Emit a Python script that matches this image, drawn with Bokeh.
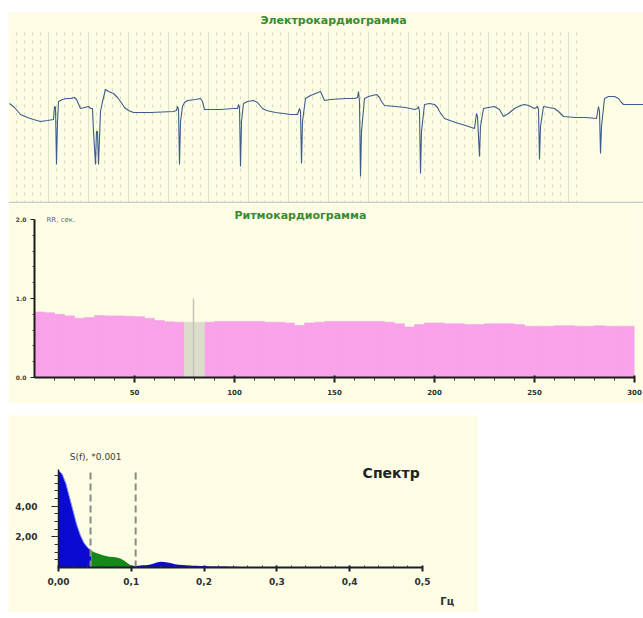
import numpy as np
from bokeh.plotting import figure
from bokeh.models import Label, Span, BoxAnnotation, Grid, SingleIntervalTicker, FixedTicker
from bokeh.embed import file_html
from bokeh.resources import INLINE

CREAM = "#fdfde6"
PINK = "#f8a2ea"
TITLE_GREEN = "#3a8a32"

# ---------------- ECG trace (time units, amplitude units) ----------------
ecg_time = [1, 6, 12, 19, 25, 32, 39, 45,
            46, 47, 48, 49, 50, 54, 58, 62, 66, 68, 72, 76, 80, 82,
            84, 85, 87, 88, 89, 90, 92, 94, 97, 100, 105, 109, 112, 116, 120, 125, 142, 165,
            168, 169, 170, 171, 172, 174, 176, 179, 187, 192, 194, 196, 202, 212, 225, 229,
            230, 231, 232, 233, 235, 239, 245, 249, 254, 258, 267, 275, 282, 289,
            291, 292, 293, 294, 297, 302, 307, 312, 316, 322, 337, 346, 349,
            350, 351, 352, 353, 356, 360, 368, 371, 373, 376, 387, 397, 406, 409,
            410, 411, 412, 413, 416, 421, 426, 429, 431, 436, 447, 457, 466,
            468, 469, 471, 472, 475, 480, 486, 491, 495, 500, 506, 512, 516, 520, 526, 528,
            529, 530, 531, 532, 535, 540, 546, 550, 555, 567, 577, 588,
            590, 591, 592, 593, 596, 600, 606, 610, 613, 615, 622, 635]
ecg_amp = [100, 96, 89, 86, 84, 82, 83, 84,
           97, 96, 39, 82, 102, 104, 105, 105, 106, 104, 95, 96, 97, 95,
           95, 72, 39, 72, 72, 39, 92, 102, 114, 112, 110, 106, 102, 96, 93, 91, 91, 92,
           93, 97, 94, 39, 82, 97, 101, 103, 104, 105, 102, 94, 94, 94, 95, 95,
           99, 96, 37, 82, 100, 102, 103, 101, 95, 93, 91, 90, 89, 89,
           95, 92, 40, 82, 105, 108, 110, 112, 103, 104, 105, 105, 106,
           112, 102, 27, 72, 105, 107, 109, 106, 102, 98, 97, 96, 94, 95,
           97, 92, 30, 72, 99, 100, 99, 96, 92, 85, 81, 78, 75,
           90, 87, 47, 77, 95, 96, 97, 94, 87, 90, 95, 98, 99, 98, 95, 96,
           97, 94, 44, 77, 97, 96, 95, 92, 87, 86, 86, 85,
           97, 92, 50, 77, 105, 107, 107, 105, 101, 99, 99, 99]

# ---------------- Rhythmogram (RR, s) ----------------
rr_start = list(range(0, 300, 5))
rr_value = [0.83, 0.82, 0.80, 0.78, 0.75, 0.76, 0.785, 0.78, 0.78, 0.775,
            0.77, 0.75, 0.72, 0.705, 0.70, None, None, 0.70, 0.71, 0.71,
            0.71, 0.71, 0.71, 0.70, 0.70, 0.69, 0.66, 0.69, 0.70, 0.71,
            0.71, 0.71, 0.71, 0.71, 0.71, 0.70, 0.68, 0.64, 0.67, 0.69,
            0.69, 0.68, 0.68, 0.67, 0.67, 0.68, 0.68, 0.68, 0.67, 0.65,
            0.65, 0.65, 0.655, 0.655, 0.65, 0.65, 0.655, 0.65, 0.65, 0.65]
gap_start = [75, 80]
gap_value = [0.70, 0.70]
artifact_time = [79.5]
artifact_value = [1.0]
rr_ticks = [50, 100, 150, 200, 250, 300]
rr_y_ticks = [0, 1, 2]
rr_y_labels = ["0.0", "1.0", "2.0"]

# ---------------- Spectrum ----------------
spec_freq = [i * 0.005 for i in range(51)]
spec_power = [6.35, 6.1, 5.5, 4.6, 3.7, 2.8, 2.1, 1.6, 1.3, 1.1,
              0.98, 0.9, 0.82, 0.75, 0.7, 0.68, 0.65, 0.58, 0.45, 0.28,
              0.12, 0.1, 0.12, 0.14, 0.15, 0.18, 0.25, 0.33, 0.38, 0.36,
              0.33, 0.28, 0.22, 0.18, 0.16, 0.14, 0.13, 0.12, 0.11, 0.1,
              0.1, 0.08, 0.07, 0.07, 0.06, 0.06, 0.06, 0.05, 0.05, 0.05,
              0.04]
band_edges = [0.044, 0.106]
band_top = 6.35
lf_band = (0.045, 0.100)
spec_x_ticks = [0, 0.1, 0.2, 0.3, 0.4, 0.5]
spec_x_labels = ["0,00", "0,1", "0,2", "0,3", "0,4", "0,5"]
spec_y_ticks = [2, 4]
spec_y_labels = ["2,00", "4,00"]

# ======================= ECG panel =======================
p1 = figure(width=635, height=203, x_range=(0, 635), y_range=(0, 191),
            x_axis_type=None, y_axis_type=None, toolbar_location=None,
            output_backend="svg", min_border_top=12, min_border_left=0,
            min_border_right=0, min_border_bottom=0,
            background_fill_color=CREAM, border_fill_color="white",
            outline_line_color=None)
p1.margin = (0, 0, 0, 8)
grid = Grid(dimension=0, ticker=SingleIntervalTicker(interval=40, num_minor_ticks=5),
            bounds=(0, 572), grid_line_color="#dde2c8", grid_line_width=1,
            minor_grid_line_color="#d4dabd", minor_grid_line_dash="3 5")
p1.add_layout(grid)
p1.add_layout(BoxAnnotation(bottom=172, fill_color=CREAM, fill_alpha=1.0, line_color=None))
p1.line(ecg_time, ecg_amp, line_color="#3d5c8c", line_width=1.1)
p1.add_layout(Span(location=0.8, dimension="width", line_color="#cacac0", line_width=2))
p1.add_layout(Label(x=325, y=183, text="Электрокардиограмма", text_align="center",
                    text_baseline="middle", text_font="DejaVu Sans", text_font_style="bold",
                    text_font_size="11px", text_color=TITLE_GREEN))

# ======================= Rhythmogram =======================
p2 = figure(width=635, height=200, x_range=(0, 300), y_range=(0, 2.2025),
            toolbar_location=None, output_backend="svg",
            min_border_left=26, min_border_right=9, min_border_top=0, min_border_bottom=26,
            background_fill_color=CREAM, border_fill_color=CREAM, outline_line_color=None)
p2.margin = (0, 0, 0, 8)
p2.grid.visible = False

left = [t for t, v in zip(rr_start, rr_value) if v is not None]
top = [v for v in rr_value if v is not None]
p2.quad(left=left, right=[l + 5 for l in left], bottom=0, top=top,
        fill_color=PINK, line_color=PINK, line_width=0.6)
p2.quad(left=gap_start, right=[g + 5 for g in gap_start], bottom=0, top=gap_value,
        fill_color="#dcdccb", line_color="#dcdccb", line_width=0.6)
p2.segment(x0=artifact_time, y0=0, x1=artifact_time, y1=artifact_value,
           line_color="#c4c4b8", line_width=1.5)

xa = p2.xaxis[0]
xa.ticker = FixedTicker(ticks=rr_ticks, minor_ticks=list(range(10, 300, 10)))
xa.bounds = (0, 300)
xa.axis_line_color = "#1a1a1a"
xa.axis_line_width = 2
xa.major_tick_line_color = "#1a1a1a"
xa.major_tick_line_width = 2
xa.major_tick_in = 2
xa.major_tick_out = 5
xa.minor_tick_line_color = "#333333"
xa.minor_tick_in = 0
xa.minor_tick_out = 3
xa.major_label_standoff = 6
xa.major_label_text_font = "DejaVu Sans"
xa.major_label_text_font_style = "bold"
xa.major_label_text_font_size = "7px"
xa.major_label_text_color = "#303030"

ya = p2.yaxis[0]
ya.ticker = FixedTicker(ticks=rr_y_ticks, minor_ticks=[0.2, 0.4, 0.6, 0.8, 1.2, 1.4, 1.6, 1.8])
ya.major_label_overrides = {t: s for t, s in zip(rr_y_ticks, rr_y_labels)}
ya.bounds = (0, 2)
ya.axis_line_color = "#1a1a1a"
ya.axis_line_width = 2
ya.major_tick_line_color = "#1a1a1a"
ya.major_tick_in = 0
ya.major_tick_out = 4
ya.minor_tick_line_color = "#333333"
ya.minor_tick_in = 0
ya.minor_tick_out = 2
ya.major_label_standoff = 4
ya.major_label_text_font = "DejaVu Sans"
ya.major_label_text_font_style = "bold"
ya.major_label_text_font_size = "6px"
ya.major_label_text_color = "#404040"

p2.add_layout(Label(x=133, y=2.05, text="Ритмокардиограмма", text_align="center",
                    text_baseline="middle", text_font="DejaVu Sans", text_font_style="bold",
                    text_font_size="11px", text_color=TITLE_GREEN))
p2.add_layout(Label(x=6, y=1.99, text="RR, сек.", text_align="left", text_baseline="middle",
                    text_font="DejaVu Sans", text_font_size="7px", text_color="#6a6a6a"))

# ======================= Spectrum =======================
p3 = figure(width=470, height=197, x_range=(-0.0687, 0.577), y_range=(-2.94, 9.93),
            toolbar_location=None, output_backend="svg",
            min_border_left=0, min_border_right=0, min_border_top=0, min_border_bottom=0,
            background_fill_color=CREAM, border_fill_color=CREAM, outline_line_color=None)
p3.margin = (12, 0, 0, 8)
p3.grid.visible = False

f = np.array(spec_freq)
s = np.array(spec_power)
m1 = f <= lf_band[0] + 1e-9
m2 = (f >= lf_band[0] - 1e-9) & (f <= lf_band[1] + 1e-9)
m3 = f >= lf_band[1] - 1e-9
BLUE = "#0a0ad2"
GREEN = "#16881a"
p3.varea(x=f[m1], y1=0, y2=s[m1], fill_color=BLUE)
p3.varea(x=f[m2], y1=0, y2=s[m2], fill_color=GREEN)
p3.varea(x=f[m3], y1=0, y2=s[m3], fill_color=BLUE)
p3.line(f[m1], s[m1], line_color="#7f8cf0", line_width=1)
p3.segment(x0=band_edges, y0=0, x1=band_edges, y1=band_top,
           line_color="#8a8a84", line_width=2, line_dash="7 4")

xs = p3.xaxis[0]
xs.fixed_location = 0
xs.ticker = FixedTicker(ticks=spec_x_ticks, minor_ticks=[round(0.02 * i, 2) for i in range(1, 25)])
xs.major_label_overrides = {t: s_ for t, s_ in zip(spec_x_ticks, spec_x_labels)}
xs.bounds = (0, 0.5)
xs.axis_line_color = "#1c1c30"
xs.axis_line_width = 2
xs.major_tick_line_color = "#1c1c30"
xs.major_tick_line_width = 2
xs.major_tick_in = 2
xs.major_tick_out = 4
xs.minor_tick_line_color = "#333344"
xs.minor_tick_in = 2
xs.minor_tick_out = 0
xs.major_label_standoff = 7
xs.major_label_text_font = "DejaVu Sans"
xs.major_label_text_font_style = "bold"
xs.major_label_text_font_size = "9px"
xs.major_label_text_color = "#303030"

ys = p3.yaxis[0]
ys.fixed_location = 0
ys.ticker = FixedTicker(ticks=spec_y_ticks, minor_ticks=[0.5 * i for i in range(1, 13)])
ys.major_label_overrides = {t: s_ for t, s_ in zip(spec_y_ticks, spec_y_labels)}
ys.bounds = (0, 6.4)
ys.axis_line_color = "#1c1c30"
ys.axis_line_width = 1.5
ys.major_tick_line_color = "#1c1c30"
ys.major_tick_in = 0
ys.major_tick_out = 7
ys.minor_tick_line_color = "#333344"
ys.minor_tick_in = 0
ys.minor_tick_out = 4
ys.major_label_standoff = 14
ys.major_label_text_font = "DejaVu Sans"
ys.major_label_text_font_style = "bold"
ys.major_label_text_font_size = "9px"
ys.major_label_text_color = "#303030"

p3.add_layout(Label(x=0.051, y=7.2, text="S(f), *0.001", text_align="center",
                    text_baseline="middle", text_font="DejaVu Sans",
                    text_font_size="9px", text_color="#404040"))
p3.add_layout(Label(x=0.457, y=6.2, text="Спектр", text_align="center",
                    text_baseline="middle", text_font="DejaVu Sans", text_font_style="bold",
                    text_font_size="14px", text_color="#222222"))
p3.add_layout(Label(x=0.534, y=-2.2, text="Гц", text_align="center",
                    text_baseline="middle", text_font="DejaVu Sans", text_font_style="bold",
                    text_font_size="10px", text_color="#303030"))

open("out.html", "w").write(file_html([p1, p2, p3], INLINE))
